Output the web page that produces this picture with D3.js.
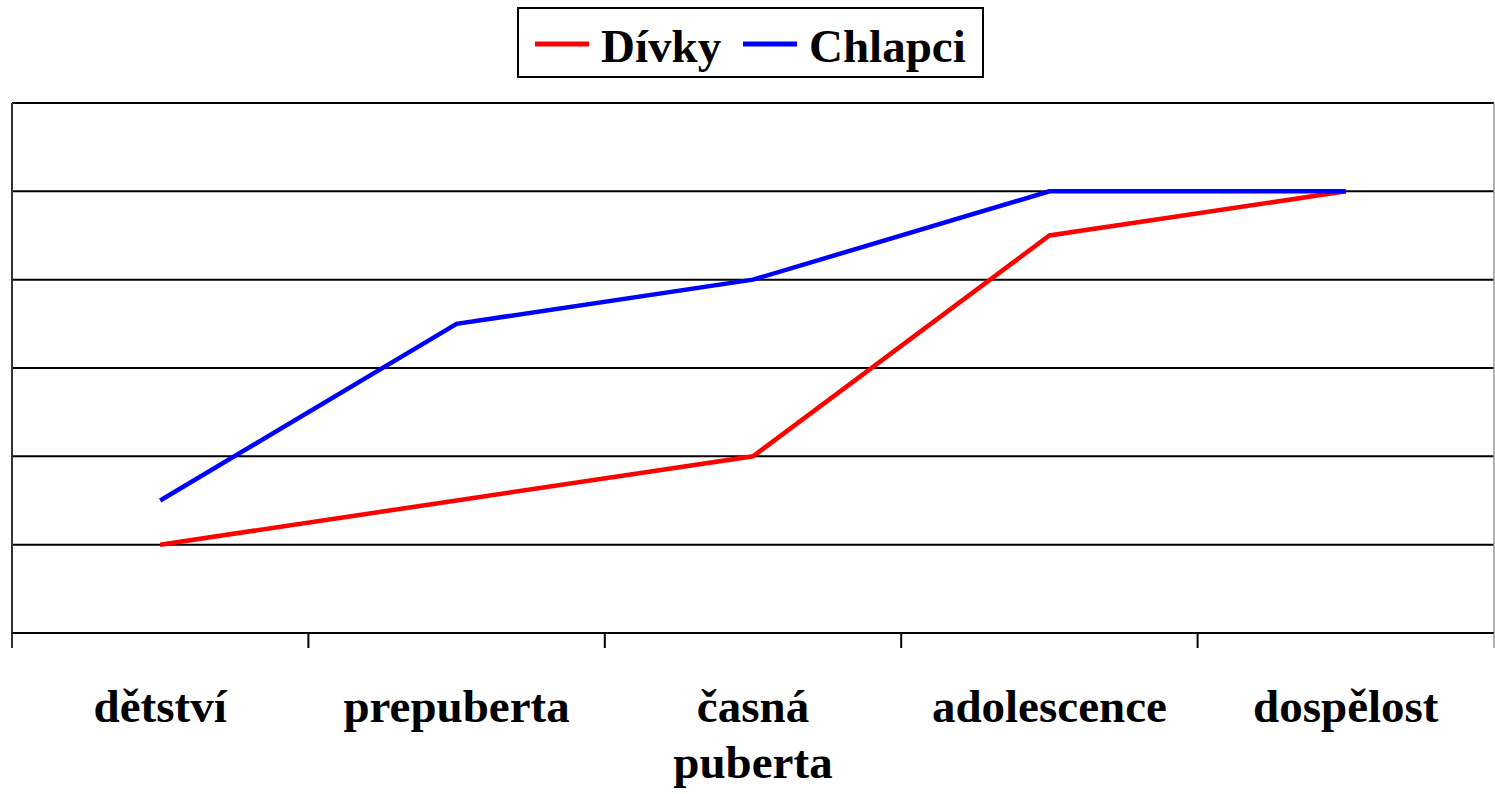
<!DOCTYPE html>
<html><head><meta charset="utf-8">
<script src="https://cdn.jsdelivr.net/npm/d3@7"></script>
<style>html,body{margin:0;padding:0;background:#fff;}svg{display:block;}</style>
</head><body>
<script>
const categories = ["dětství", "prepuberta", "časná puberta", "adolescence", "dospělost"];
const divky = [1, 1.5, 2, 4.5, 5];
const chlapci = [1.5, 3.5, 4, 5, 5];
const seriesNames = ["Dívky", "Chlapci"];
const seriesColors = ["#ff0000", "#0000ff"];
const yTicks = [0, 1, 2, 3, 4, 5, 6];

const W = 1495, H = 794;
const m = {left: 12, right: 1494, top: 103, bottom: 633};
const svg = d3.select("body").append("svg").attr("width", W).attr("height", H);

const x = d3.scaleBand().domain(categories).range([m.left, m.right]).padding(0);
const y = d3.scaleLinear().domain([0, 6]).range([m.bottom, m.top]);

// gridlines
svg.append("g").selectAll("line").data(yTicks.filter(d => d > 0)).join("line")
  .attr("x1", m.left).attr("x2", m.right)
  .attr("y1", d => y(d)).attr("y2", d => y(d))
  .attr("stroke", "#000").attr("stroke-width", 2);

// right border
svg.append("line").attr("x1", m.right).attr("x2", m.right).attr("y1", m.top).attr("y2", m.bottom)
  .attr("stroke", "#999").attr("stroke-width", 1.5);

// left axis line
svg.append("line").attr("x1", m.left).attr("x2", m.left).attr("y1", m.top).attr("y2", m.bottom + 15)
  .attr("stroke", "#333").attr("stroke-width", 2);

// bottom axis
svg.append("line").attr("x1", m.left).attr("x2", m.right).attr("y1", m.bottom).attr("y2", m.bottom)
  .attr("stroke", "#000").attr("stroke-width", 2);
const tickPos = categories.slice(1).map(c => x(c));
svg.append("g").selectAll("line").data(tickPos).join("line")
  .attr("x1", d => d).attr("x2", d => d).attr("y1", m.bottom).attr("y2", m.bottom + 15)
  .attr("stroke", "#000").attr("stroke-width", 2);
svg.append("line").attr("x1", m.right).attr("x2", m.right).attr("y1", m.bottom).attr("y2", m.bottom + 15)
  .attr("stroke", "#999").attr("stroke-width", 1.5);

// category labels
const lab = svg.append("g").attr("font-family", "'Liberation Serif','Times New Roman',serif")
  .attr("font-weight", "bold").attr("font-size", 47).attr("text-anchor", "middle");
categories.forEach(c => {
  const parts = c === "časná puberta" ? ["časná", "puberta"] : [c];
  const t = lab.append("text").attr("x", x(c) + x.bandwidth() / 2).attr("y", 722);
  parts.forEach((p, i) => t.append("tspan").attr("x", x(c) + x.bandwidth() / 2).attr("dy", i === 0 ? 0 : 56).text(p));
});

// lines
const line = d3.line().x((d, i) => x(categories[i]) + x.bandwidth() / 2).y(d => y(d));
[divky, chlapci].forEach((s, k) => {
  svg.append("path").datum(s).attr("d", line).attr("fill", "none")
    .attr("stroke", seriesColors[k]).attr("stroke-width", 4.5).attr("stroke-linejoin", "miter");
});

// legend
const lg = svg.append("g");
lg.append("rect").attr("x", 518).attr("y", 8).attr("width", 465).attr("height", 69)
  .attr("fill", "#fff").attr("stroke", "#000").attr("stroke-width", 2);
const lx = [535, 743];
seriesNames.forEach((n, i) => {
  lg.append("line").attr("x1", lx[i]).attr("x2", lx[i] + 54).attr("y1", 44).attr("y2", 44)
    .attr("stroke", seriesColors[i]).attr("stroke-width", 5);
  lg.append("text").attr("x", lx[i] + 66).attr("y", 62)
    .attr("font-family", "'Liberation Serif','Times New Roman',serif").attr("font-weight", "bold")
    .attr("font-size", 47).text(n);
});
</script>
</body></html>
